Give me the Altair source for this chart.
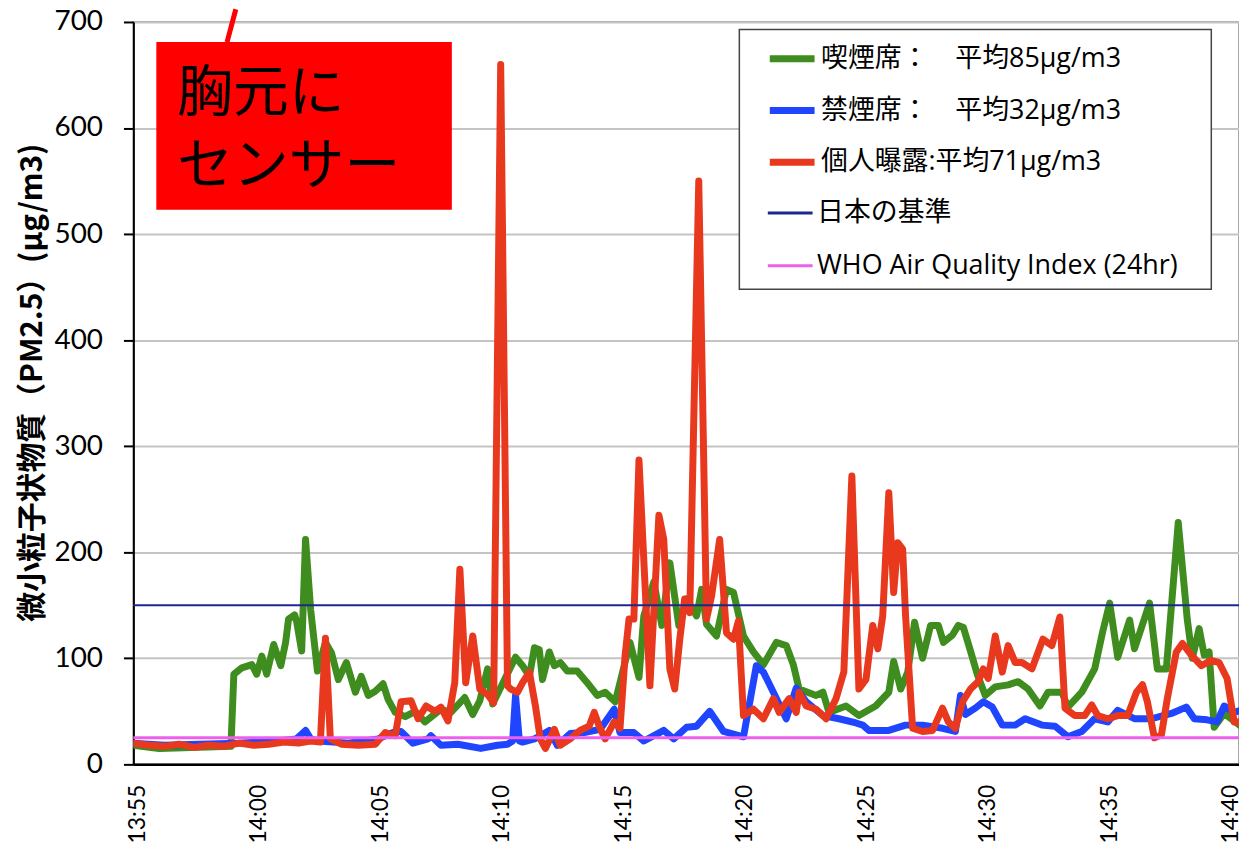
import altair as alt
import pandas as pd

LATIN = "Lato, 'Noto Sans CJK JP', sans-serif"
LEGEND_FONT = "'Open Sans', 'Noto Sans CJK JP', sans-serif"
CJK = "'Noto Sans CJK JP', Lato, sans-serif"

# ---- categories / legend labels ----
data_names = [
    "喫煙席：　平均85µg/m3",
    "禁煙席：　平均32µg/m3",
    "個人曝露:平均71µg/m3",
]
data_colors = ["#3f8c1f", "#1f45ff", "#e8391f"]
ref_names = ["日本の基準", "WHO Air Quality Index (24hr)"]
ref_colors = ["#1c2790", "#ee5fee"]

# ---- time in minutes after 13:55, values in µg/m3 ----
smoking_t = [
    -0.2, 0.9, 2.54, 3.85, 3.97, 4.30, 4.71, 4.91, 5.12, 5.32,
    5.61, 5.90, 6.10, 6.22, 6.47, 6.55, 6.76, 6.92, 7.13, 7.41,
    7.74, 7.99, 8.27, 8.60, 8.97, 9.21, 9.50, 9.79, 10.11, 10.32,
    10.61, 11.02, 11.43, 11.83, 12.49, 12.90, 13.47, 13.80, 14.09, 14.41,
    14.62, 15.11, 15.56, 15.85, 16.13, 16.34, 16.54, 16.67, 16.95, 17.16,
    17.40, 17.69, 18.10, 18.51, 18.92, 19.25, 19.66, 19.86, 20.27, 20.64,
    20.84, 21.25, 21.58, 21.91, 22.28, 22.60, 23.01, 23.22, 23.42, 23.83,
    24.24, 24.53, 24.94, 25.35, 25.76, 26.29, 26.70, 26.99, 27.23, 27.93,
    28.21, 28.46, 29.16, 29.69, 30.38, 30.92, 31.12, 31.41, 31.70, 31.98,
    32.31, 32.64, 32.96, 33.17, 33.54, 33.78, 33.99, 34.28, 34.56, 34.89,
    35.30, 35.83, 36.24, 36.65, 37.14, 37.47, 38.04, 38.29, 38.86, 39.39,
    39.72, 40.01, 40.34, 40.83, 41.03, 41.65, 41.97, 42.34, 42.83, 43.20,
    43.41, 43.69, 43.90, 44.10, 44.31, 44.72, 45.41,
]
smoking_v = [
    18, 15, 16, 17, 85, 91, 94, 85, 102, 85,
    113, 93, 115, 137, 141, 135, 107, 212, 146, 88,
    115, 105, 80, 96, 68, 83, 65, 69, 76, 61,
    49, 45, 50, 40, 52, 49, 63, 47, 60, 90,
    57, 80, 101, 93, 83, 110, 108, 80, 106, 93,
    96, 88, 88, 77, 65, 68, 59, 77, 115, 82,
    140, 172, 131, 190, 131, 156, 140, 165, 132, 121,
    165, 162, 121, 106, 94, 115, 112, 94, 71, 65,
    68, 49, 55, 46, 55, 68, 97, 71, 87, 134,
    100, 131, 131, 115, 122, 131, 129, 107, 85, 65,
    73, 75, 78, 71, 55, 68, 68, 54, 68, 90,
    125, 152, 101, 136, 109, 152, 90, 90, 228, 137,
    100, 128, 103, 106, 35, 48, 36,
]

nonsmoking_t = [
    -0.2, 1.11, 2.54, 4.18, 5.81, 6.55, 6.92, 7.13, 7.45, 8.68,
    9.91, 10.52, 10.85, 11.34, 11.96, 12.08, 12.49, 13.19, 14.13, 14.82,
    15.23, 15.44, 15.56, 15.72, 15.85, 16.34, 16.95, 17.28, 17.81, 18.39,
    19.04, 19.62, 19.86, 20.43, 20.84, 21.66, 22.07, 22.60, 23.01, 23.55,
    24.12, 24.94, 25.47, 25.76, 26.17, 26.70, 27.11, 27.52, 28.21, 28.87,
    29.57, 29.85, 30.10, 30.92, 31.61, 32.31, 33.13, 33.66, 33.87, 34.07,
    34.48, 34.81, 35.18, 35.59, 36.12, 36.53, 37.22, 37.76, 38.29, 38.86,
    39.39, 39.93, 40.34, 41.03, 41.73, 42.55, 43.16, 43.49, 44.02, 44.43,
    44.72, 45.13, 45.41,
]
nonsmoking_v = [
    20, 18, 19, 20, 22, 24, 32, 24, 22, 20,
    24, 30, 31, 20, 24, 27, 18, 19, 15, 18,
    19, 22, 65, 22, 21, 24, 32, 18, 29, 30,
    33, 52, 30, 30, 22, 32, 24, 35, 36, 50,
    31, 26, 93, 87, 68, 43, 72, 59, 46, 43,
    39, 37, 32, 32, 37, 37, 34, 31, 65, 47,
    53, 59, 54, 37, 37, 43, 37, 36, 26, 31,
    43, 40, 51, 43, 43, 48, 54, 43, 42, 40,
    55, 49, 51,
]

personal_t = [
    -0.2, 0.49, 1.11, 1.72, 2.33, 2.95, 3.56, 4.18, 4.79, 5.41,
    6.02, 6.63, 7.13, 7.53, 7.74, 7.94, 8.39, 9.09, 9.79, 10.20,
    10.61, 10.85, 11.26, 11.55, 11.88, 12.24, 12.49, 12.78, 13.06, 13.27,
    13.51, 13.80, 14.09, 14.41, 14.66, 14.95, 15.23, 15.36, 15.64, 15.85,
    16.13, 16.38, 16.58, 16.79, 17.16, 17.40, 17.81, 18.22, 18.59, 18.80,
    19.00, 19.25, 19.62, 19.86, 20.07, 20.23, 20.43, 20.64, 21.09, 21.46,
    21.66, 21.91, 22.11, 22.32, 22.52, 22.73, 23.10, 23.42, 23.63, 23.96,
    24.24, 24.53, 24.73, 24.94, 25.35, 25.76, 26.17, 26.41, 26.82, 27.11,
    27.23, 27.52, 27.93, 28.34, 28.75, 29.07, 29.40, 29.69, 29.98, 30.26,
    30.47, 30.67, 30.92, 31.12, 31.29, 31.49, 31.61, 31.90, 32.31, 32.72,
    33.13, 33.37, 33.66, 33.95, 34.28, 34.60, 34.81, 35.01, 35.30, 35.59,
    35.83, 36.12, 36.40, 36.81, 37.26, 37.63, 37.96, 38.17, 38.57, 38.98,
    39.27, 39.52, 39.93, 40.34, 40.75, 41.11, 41.36, 41.56, 41.85, 42.14,
    42.38, 42.75, 43.00, 43.37, 43.78, 44.18, 44.51, 44.84, 45.13, 45.41,
]
personal_v = [
    20, 18, 17, 19, 16, 18, 17, 20, 18, 19,
    21, 20, 22, 21, 119, 24, 19, 18, 19, 30,
    27, 59, 60, 43, 55, 50, 54, 41, 77, 184,
    77, 121, 71, 66, 58, 660, 74, 71, 68, 77,
    87, 55, 24, 15, 33, 18, 24, 32, 36, 49,
    36, 24, 40, 34, 103, 137, 137, 287, 74, 235,
    212, 90, 71, 118, 156, 143, 550, 137, 159, 212,
    124, 118, 135, 46, 52, 43, 62, 49, 62, 49,
    68, 55, 52, 43, 62, 87, 272, 71, 80, 131,
    109, 140, 256, 162, 209, 203, 140, 34, 31, 32,
    53, 40, 34, 59, 71, 78, 90, 81, 121, 87,
    112, 96, 96, 90, 118, 112, 139, 53, 46, 46,
    56, 46, 43, 46, 46, 68, 75, 59, 25, 28,
    62, 106, 114, 103, 93, 98, 96, 81, 40, 40,
]

japan_standard = 150
who_standard = 25

y_ticks = [0, 100, 200, 300, 400, 500, 600, 700]
x_ticks = [0, 5, 10, 15, 20, 25, 30, 35, 40, 45]
x_domain = [-0.164, 45.33]

# annotation box and legend frame (data coordinates)
note_lines = ["胸元に", "センサー"]
note_box = {"t": 0.78, "t2": 12.94, "v": 681, "v2": 523}
note_text_t = 1.64
note_text_v = [632, 563]
callout_t = [4.05, 3.69]
callout_v = [712, 681]
legend_frame = {"t": 24.77, "t2": 44.19, "v": 693, "v2": 448}

# ---- build tables ----
def series_df(name, ts, vs):
    return pd.DataFrame({"t": ts, "v": vs, "series": name})

df_smoke = series_df(data_names[0], smoking_t, smoking_v)
df_nons = series_df(data_names[1], nonsmoking_t, nonsmoking_v)
df_pers = series_df(data_names[2], personal_t, personal_v)
df_jp = series_df(ref_names[0], x_domain, [japan_standard, japan_standard])
df_who = series_df(ref_names[1], x_domain, [who_standard, who_standard])

label_expr = (
    "(13 + floor((55 + datum.value) / 60)) + ':' + "
    "(((55 + datum.value) % 60) < 10 ? '0' : '') + ((55 + datum.value) % 60)"
)

x_enc = alt.X(
    "t:Q",
    scale=alt.Scale(domain=x_domain, nice=False, zero=False),
    axis=alt.Axis(
        values=x_ticks, labelExpr=label_expr, labelAngle=-90,
        labelFont=LATIN, labelFontSize=23, labelColor="black",
        labelPadding=20, ticks=False, domainColor="black", domainWidth=2.5,
        grid=False, labelOverlap=False, labelFlush=False,
    ),
    title=None,
)
y_enc = alt.Y(
    "v:Q",
    scale=alt.Scale(domain=[0, 700], nice=False),
    axis=alt.Axis(
        values=y_ticks, labelFont=LATIN, labelFontSize=28, labelColor="black",
        labelPadding=21, tickSize=10, tickColor="black", tickWidth=2,
        domainColor="black", domainWidth=2, grid=True, gridColor="#c4c4c4",
        gridWidth=2, titleFont=CJK, titleFontSize=30, titleFontWeight="bold",
        titleColor="black", titlePadding=7, titleY=362,
    ),
    title="微小粒子状物質（PM2.5）(µg/m3)",
)

def make_legend(y, stroke_w, row_pad):
    return alt.Legend(
        title=None, orient="none", legendX=636, legendY=y,
        symbolType="stroke", symbolSize=2025, symbolStrokeWidth=stroke_w,
        labelFont=LEGEND_FONT, labelFontSize=27, labelColor="black", labelLimit=600,
        rowPadding=row_pad, padding=0, labelOffset=3,
    )

color_data = alt.Color(
    "series:N",
    scale=alt.Scale(domain=data_names, range=data_colors),
    legend=make_legend(11, 7, 12),
)
color_ref = alt.Color(
    "series:N",
    scale=alt.Scale(domain=ref_names, range=ref_colors),
    legend=make_legend(168, 3, 16),
)

def series_line(df, width, color):
    return alt.Chart(df).mark_line(
        strokeWidth=width, strokeJoin="round", strokeCap="round", clip=True
    ).encode(x=x_enc, y=y_enc, color=color)

data_layer = alt.layer(
    series_line(df_smoke, 7, color_data),
    series_line(df_nons, 7, color_data),
    series_line(df_pers, 7, color_data),
)
ref_layer = alt.layer(
    series_line(df_jp, 2, color_ref),
    series_line(df_who, 3, color_ref),
)

frame = alt.Chart(pd.DataFrame([legend_frame])).mark_rect(
    fill="white", stroke="#444444", strokeWidth=1.5
).encode(x=x_enc, x2="t2:Q", y=y_enc, y2="v2:Q")

box = alt.Chart(pd.DataFrame([note_box])).mark_rect(color="#ff0000").encode(
    x=x_enc, x2="t2:Q", y=y_enc, y2="v2:Q"
)
note = alt.Chart(
    pd.DataFrame({"t": [note_text_t, note_text_t], "v": note_text_v, "label": note_lines})
).mark_text(align="left", baseline="middle", font=CJK, fontSize=56, color="black").encode(
    x=x_enc, y=y_enc, text="label:N"
)
callout = alt.Chart(pd.DataFrame({"t": callout_t, "v": callout_v})).mark_line(
    color="#ff0000", strokeWidth=5, clip=False
).encode(x=x_enc, y=y_enc)

chart = alt.layer(data_layer, ref_layer, frame, box, note, callout).resolve_scale(
    color="independent"
).properties(
    width=1111,
    height=746,
    autosize=alt.AutoSizeParams(type="none"),
    padding={"left": 126, "top": 12, "right": 0, "bottom": 79},
    background="white",
).configure_view(stroke="#8a8a8a", strokeWidth=1.5)

chart.save("out.html", embed_options={"renderer": "svg", "actions": False})
